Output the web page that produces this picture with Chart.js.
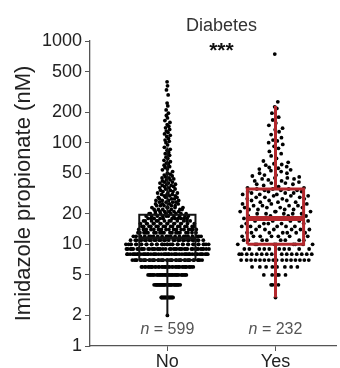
<!DOCTYPE html>
<html>
<head>
<meta charset="utf-8">
<script src="https://cdn.jsdelivr.net/npm/chart.js@4.4.1/dist/chart.umd.min.js"></script>
<style>
  html, body { margin: 0; padding: 0; background: #fff; }
  #wrap { width: 340px; height: 368px; }
</style>
</head>
<body>
<div id="wrap"><canvas id="chart" width="340" height="368"></canvas></div>
<script>
const FONT = "'Liberation Sans', Arial, Helvetica, sans-serif";

const groups = ['No', 'Yes'];
const groupN = [599, 232];
const yTicks = [1, 2, 5, 10, 20, 50, 100, 200, 500, 1000];

// No group: integer levels and how many samples sit on each
const noLevels = [2, 3, 4, 5, 6, 7, 8, 9, 10, 11, 12, 13, 14, 15, 16, 17, 18, 19, 20,
  21, 22, 23, 24, 25, 26, 27, 28, 29, 30, 31, 32, 33, 34, 35, 36, 37, 38, 39, 40,
  41, 42, 43, 44, 45, 46, 47, 48, 49, 50];
const noCounts = [1, 15, 28, 30, 36, 40, 46, 41, 36, 29, 21, 19, 17, 16, 15, 12, 11, 10, 9,
  6, 6, 5, 5, 4, 4, 4, 3, 3, 3, 3, 3, 2, 2, 2, 2, 2, 2, 2, 2,
  2, 1, 2, 1, 2, 1, 1, 1, 1, 1];
const noHigh = [52, 54, 55, 57, 58, 60, 62, 63, 65, 67, 70, 72, 75, 78, 80, 84, 86, 90, 95, 100,
  103, 106, 110, 115, 118, 122, 126, 130, 135, 140, 145, 150, 158, 165, 175, 185,
  195, 210, 230, 245, 295, 330, 362, 397];

// Yes group
const yesLevels = [3, 4, 5, 6, 7, 8, 9, 10, 11, 12, 13, 14, 15, 16, 17, 18,
  19, 20, 21, 22, 23, 24, 25, 26, 27, 28, 29, 30, 31, 32, 33, 34, 35];
const yesCounts = [1, 3, 5, 8, 16, 15, 10, 9, 8, 7, 7, 6, 6, 5, 5, 5,
  4, 5, 4, 4, 4, 4, 3, 3, 3, 3, 3, 3, 3, 3, 3, 3, 3];
const yesHigh = [36, 36, 37, 38, 39, 39, 40, 40, 41, 42, 42, 43, 44, 44, 45, 45, 46, 47, 48, 48,
  50, 50, 52, 53, 54, 55, 56, 57, 58, 60, 61, 62, 64,
  66, 70, 74, 78, 82, 88, 92, 96, 100, 104,
  106, 112, 120, 128, 134, 139, 148, 156, 167, 178, 195, 217, 225, 252, 743];

// box statistics
const boxQ1 = [7, 10];
const boxMedian = [11.5, 18];
const boxQ3 = [19.5, 35];
const whiskerLow = [2, 3];
const whiskerHigh = [90, 230];
const boxColors = ['#111111', '#b3282d'];

function expand(levels, counts, extra) {
  const out = [];
  levels.forEach((v, i) => { for (let k = 0; k < counts[i]; k++) out.push(v); });
  return out.concat(extra);
}

function vdc(n) {
  let v = 0, denom = 1;
  while (n > 0) { denom *= 2; v += (n % 2) / denom; n = Math.floor(n / 2); }
  return v;
}

// quasirandom spread: offset scaled by density of log values
function quasiPoints(values, center, halfWidth, bw) {
  const sorted = values.slice().sort((a, b) => a - b);
  const logs = sorted.map(Math.log10);
  const dens = logs.map((y) => {
    let s = 0;
    for (const t of logs) { const z = (y - t) / bw; s += Math.exp(-0.5 * z * z); }
    return s;
  });
  const maxD = Math.max(...dens);
  return sorted.map((v, i) => ({
    x: center + (vdc(i + 1) * 2 - 1) * halfWidth * dens[i] / maxD,
    y: v,
  }));
}

const noPoints = quasiPoints(expand(noLevels, noCounts, noHigh), 1, 0.40, 0.06);
const yesPoints = quasiPoints(expand(yesLevels, yesCounts, yesHigh), 2, 0.37, 0.08);

const datasets = [
  { data: noPoints, pointRadius: 1.9, pointBackgroundColor: '#000', pointBorderWidth: 0, showLine: false, order: 5 },
  { data: yesPoints, pointRadius: 1.9, pointBackgroundColor: '#000', pointBorderWidth: 0, showLine: false, order: 5 },
];

const hw = 0.26;
groups.forEach((g, i) => {
  const c = i + 1;
  const col = boxColors[i];
  const lw = i === 0 ? 2 : 3;
  const line = (pts, width) => ({
    data: pts, showLine: true, borderColor: col, borderWidth: width,
    pointRadius: 0, fill: false, order: 0, borderCapStyle: 'butt', borderJoinStyle: 'miter',
  });
  datasets.push(line([
    { x: c - hw, y: boxQ1[i] }, { x: c + hw, y: boxQ1[i] }, { x: c + hw, y: boxQ3[i] },
    { x: c - hw, y: boxQ3[i] }, { x: c - hw, y: boxQ1[i] },
  ], lw));
  datasets.push(line([{ x: c - hw, y: boxMedian[i] }, { x: c + hw, y: boxMedian[i] }], i === 0 ? 3 : 5));
  datasets.push(line([{ x: c, y: boxQ3[i] }, { x: c, y: whiskerHigh[i] }], lw));
  datasets.push(line([{ x: c, y: whiskerLow[i] }, { x: c, y: boxQ1[i] }], lw));
});

const annotations = {
  id: 'annotations',
  afterDatasetsDraw(chart) {
    const { ctx, scales: { x } } = chart;
    const mid = x.getPixelForValue(1.5);
    ctx.save();
    ctx.fillStyle = '#333';
    ctx.textAlign = 'center';
    ctx.textBaseline = 'middle';
    ctx.font = `18px ${FONT}`;
    ctx.fillText('Diabetes', mid, 26);
    ctx.fillStyle = '#111';
    ctx.font = `bold 21px ${FONT}`;
    ctx.fillText('***', mid, 51);

    ctx.fillStyle = '#555';
    groupN.forEach((n, i) => {
      const cx = x.getPixelForValue(i + 1);
      const rest = ` = ${n}`;
      ctx.font = `italic 16px ${FONT}`;
      const w1 = ctx.measureText('n').width;
      ctx.font = `16px ${FONT}`;
      const w2 = ctx.measureText(rest).width;
      const left = cx - (w1 + w2) / 2;
      ctx.textAlign = 'left';
      ctx.font = `italic 16px ${FONT}`;
      ctx.fillText('n', left, 330);
      ctx.font = `16px ${FONT}`;
      ctx.fillText(rest, left + w1, 330);
    });
    ctx.restore();
  },
};

new Chart(document.getElementById('chart'), {
  type: 'scatter',
  data: { datasets },
  options: {
    responsive: false,
    animation: false,
    layout: { padding: { top: 41, right: 2, left: 0, bottom: 0 } },
    plugins: { legend: { display: false }, tooltip: { enabled: false } },
    scales: {
      x: {
        type: 'linear',
        min: 0.2844,
        max: 2.5596,
        afterBuildTicks: (axis) => { axis.ticks = [{ value: 1 }, { value: 2 }]; },
        afterFit: (axis) => { axis.height = 22; },
        border: { color: '#555', width: 1.3 },
        grid: { drawOnChartArea: false, drawTicks: true, tickLength: 5, color: '#555' },
        ticks: {
          color: '#222', padding: 0, font: { size: 18, family: FONT },
          callback: (v) => groups[v - 1] || '',
        },
      },
      y: {
        type: 'logarithmic',
        min: 1,
        max: 1000,
        afterBuildTicks: (axis) => { axis.ticks = yTicks.map((v) => ({ value: v })); },
        afterFit: (axis) => { axis.width = 90; },
        border: { color: '#555', width: 1.3 },
        grid: { drawOnChartArea: false, drawTicks: true, tickLength: 5, color: '#555' },
        ticks: {
          color: '#222', padding: 3, font: { size: 18, family: FONT },
          callback: (v) => String(v),
        },
        title: {
          display: true,
          text: 'Imidazole propionate (nM)',
          color: '#222',
          font: { size: 22, family: FONT },
          padding: { top: 11, bottom: 0 },
        },
      },
    },
  },
  plugins: [annotations],
});
</script>
</body>
</html>
